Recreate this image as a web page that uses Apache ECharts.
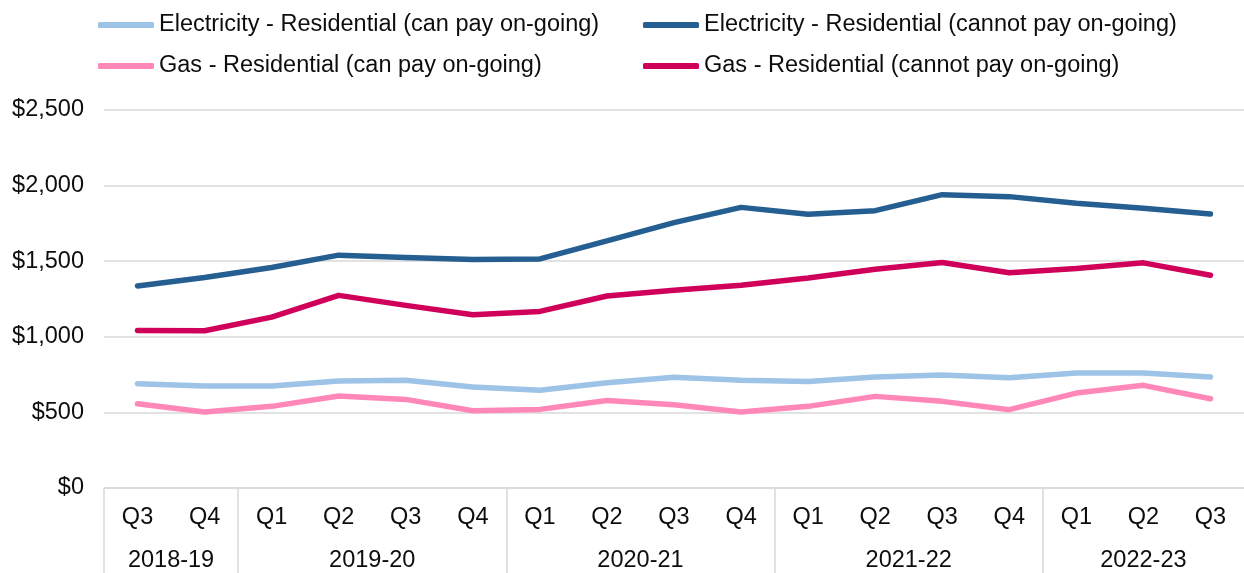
<!DOCTYPE html>
<html>
<head>
<meta charset="utf-8">
<script src="https://cdn.jsdelivr.net/npm/echarts@6/dist/echarts.min.js"></script>
<style>
html,body{margin:0;padding:0;background:#fff;}
#chart{width:1244px;height:573px;}
</style>
</head>
<body>
<div id="chart"></div>
<script>
const quarters = ['Q3','Q4','Q1','Q2','Q3','Q4','Q1','Q2','Q3','Q4','Q1','Q2','Q3','Q4','Q1','Q2','Q3'];
const years = ['2018-19','2018-19','2019-20','2019-20','2019-20','2019-20','2020-21','2020-21','2020-21','2020-21','2021-22','2021-22','2021-22','2021-22','2022-23','2022-23','2022-23'];
const categories = quarters.map((q, i) => years[i] + ' ' + q);
const yTicks = [0, 500, 1000, 1500, 2000, 2500];

const seriesNames = [
  'Electricity - Residential (can pay on-going)',
  'Electricity - Residential (cannot pay on-going)',
  'Gas - Residential (can pay on-going)',
  'Gas - Residential (cannot pay on-going)'
];
const elecCan = [690,674,674,707,712,668,646,696,732,712,705,734,747,729,760,760,734];
const elecCannot = [1336,1392,1458,1540,1524,1511,1515,1635,1755,1856,1810,1834,1940,1927,1883,1850,1812];
const gasCan = [557,502,540,608,586,511,520,579,550,502,540,606,573,518,628,679,590];
const gasCannot = [1042,1040,1130,1274,1208,1146,1168,1270,1308,1341,1389,1447,1491,1423,1451,1489,1407];

// group boundaries and centres derived from years array
const groupBounds = [];
const groupCenters = [];
const groupNames = [];
let start = 0;
for (let i = 1; i <= years.length; i++) {
  if (i === years.length || years[i] !== years[start]) {
    groupBounds.push(start);
    groupCenters.push((start + i) / 2);
    groupNames.push(years[start]);
    start = i;
  }
}

const FONT = 'Liberation Sans, Arial, sans-serif';
const FS = 23.5;
const TXT = '#0d0d0d';
const GRID = '#d9d9d9';

const colors = ['#9DC3E6', '#255F92', '#FF88B9', '#D0005A'];
const datas = [elecCan, elecCannot, gasCan, gasCannot];

const chart = echarts.init(document.getElementById('chart'));
chart.setOption({
  animation: false,
  textStyle: { fontFamily: FONT },
  legend: [
    {
      left: 93, top: 6, orient: 'vertical', itemGap: 13,
      icon: 'roundRect', itemWidth: 56, itemHeight: 6,
      data: [seriesNames[0], seriesNames[2]],
      textStyle: { fontSize: FS, color: TXT, fontFamily: FONT, lineHeight: 28 }
    },
    {
      left: 638, top: 6, orient: 'vertical', itemGap: 13,
      icon: 'roundRect', itemWidth: 56, itemHeight: 6,
      data: [seriesNames[1], seriesNames[3]],
      textStyle: { fontSize: FS, color: TXT, fontFamily: FONT, lineHeight: 28 }
    }
  ],
  grid: { left: 104, right: 0, top: 110, bottom: 85, containLabel: false },
  xAxis: [
    {
      type: 'category',
      data: categories,
      boundaryGap: true,
      axisLine: { show: true, lineStyle: { color: GRID, width: 1.5 } },
      axisTick: { show: false },
      axisLabel: {
        interval: 0, margin: 18, fontSize: FS, color: TXT, fontFamily: FONT,
        formatter: (v) => v.split(' ')[1]
      },
      splitLine: { show: false }
    },
    {
      type: 'value',
      min: 0, max: categories.length,
      position: 'bottom',
      axisLine: { show: false },
      splitLine: { show: false },
      axisTick: {
        show: true, inside: false, length: 90,
        customValues: groupBounds,
        lineStyle: { color: GRID, width: 1.5 }
      },
      axisLabel: {
        show: true, margin: 61, fontSize: FS, color: TXT, fontFamily: FONT,
        customValues: groupCenters,
        formatter: (v) => {
          const k = groupCenters.indexOf(v);
          return k >= 0 ? groupNames[k] : '';
        }
      }
    }
  ],
  yAxis: {
    type: 'value',
    min: 0, max: 2500, interval: 500,
    axisLine: { show: false },
    axisTick: { show: false },
    axisLabel: {
      margin: 20, fontSize: FS, color: TXT, fontFamily: FONT,
      formatter: (v) => '$' + v.toLocaleString('en-US')
    },
    splitLine: { show: true, lineStyle: { color: GRID, width: 1.5 } }
  },
  series: seriesNames.map((name, i) => ({
    name: name,
    type: 'line',
    xAxisIndex: 0,
    data: datas[i],
    showSymbol: false,
    symbol: 'none',
    color: colors[i],
    itemStyle: { color: colors[i] },
    lineStyle: { color: colors[i], width: 5.5, cap: 'round', join: 'round' },
    z: 3
  }))
});
</script>
</body>
</html>
